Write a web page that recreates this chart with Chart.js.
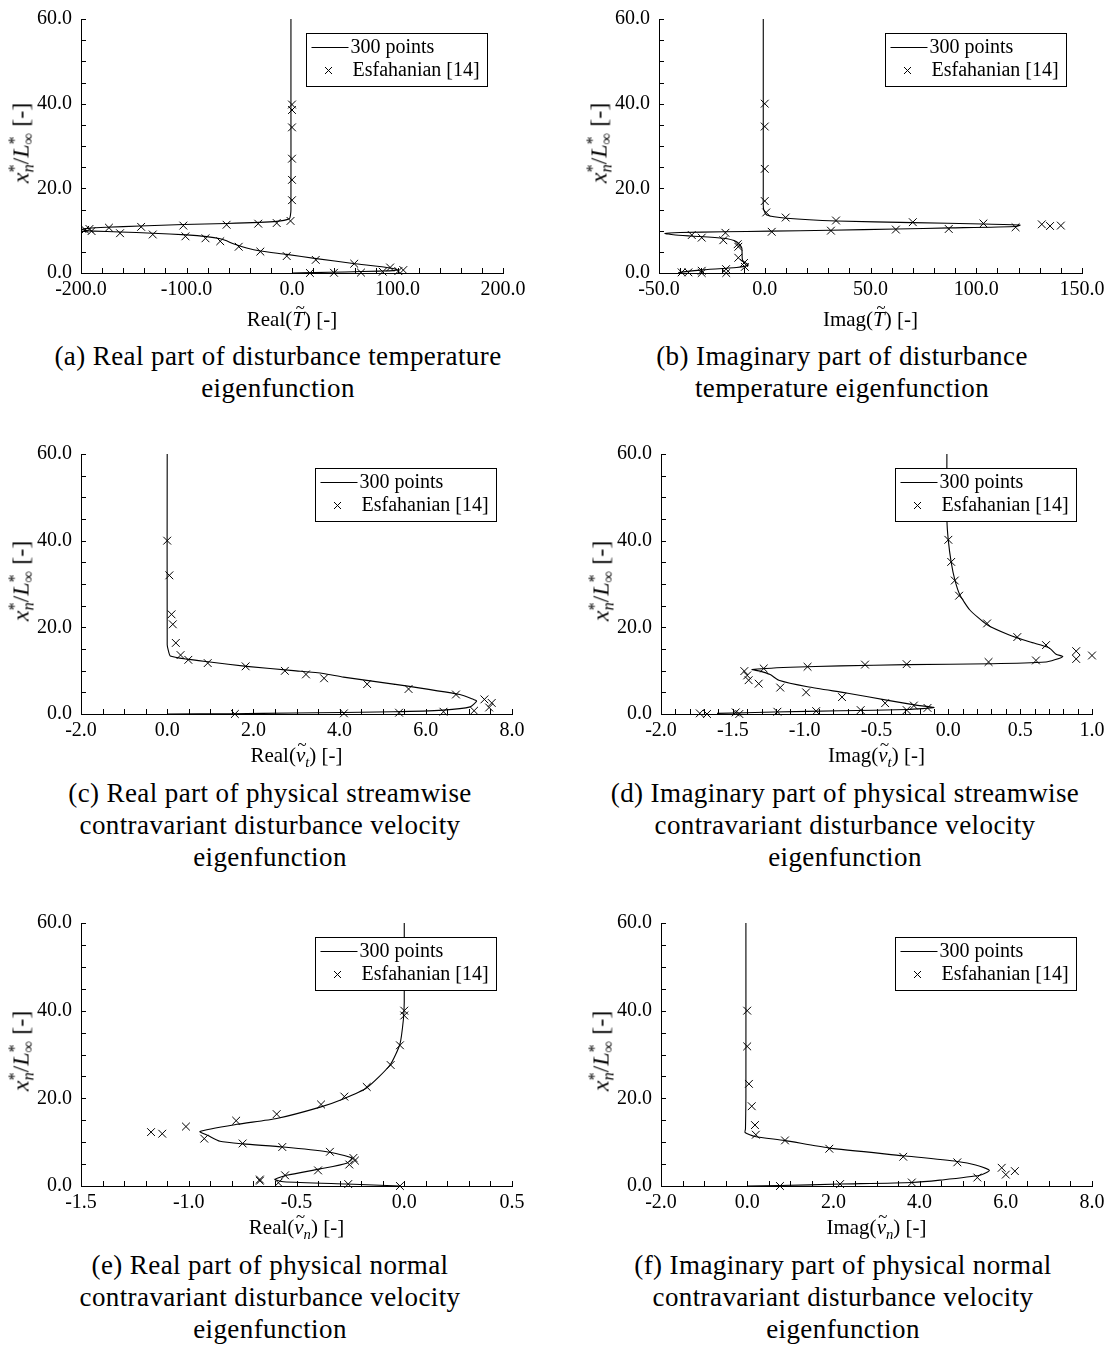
<!DOCTYPE html>
<html>
<head>
<meta charset="utf-8">
<title>Disturbance eigenfunctions</title>
<script src="https://cdn.jsdelivr.net/npm/chart.js@4.4.1/dist/chart.umd.min.js"></script>
<style>
html,body{margin:0;padding:0;background:#fff}
body{position:relative;width:1110px;height:1347px;overflow:hidden;font-family:"Liberation Serif","Times New Roman",serif;color:#000}
canvas{position:absolute}
.cap{position:absolute;transform:translateX(-50%);text-align:center;white-space:nowrap;font-size:27px;line-height:32px;letter-spacing:0.4px}
.xt{position:absolute;transform:translate(-50%,-50%);white-space:nowrap;font-size:21px}
.yt{position:absolute;transform:translate(-50%,-50%) rotate(-90deg);white-space:nowrap;font-size:24px}
.mi{font-style:italic}
.sp{font-size:0.68em;position:relative;top:-0.55em;font-style:normal}
.sb{font-size:0.68em;position:relative;top:0.3em;margin-left:-0.5em}
.acc{position:relative;display:inline-block;font-style:italic}
.acc .tl{position:absolute;left:0.2em;top:-0.55em;font-style:normal;font-size:0.8em}
.sub{font-size:0.7em;font-style:italic;vertical-align:-0.3em}
</style>
</head>
<body>
<script>
// ---- Real part of the temperature eigenfunction ----
const reT_curveX = [-1, -1, -1, -1.5, -2.5, -14.5, -62, -103, -144, -176, -193, -199, -195, -188, -163, -132, -100, -81, -68, -62, -55.6, -43, -30, -5, 23, 58, 93, 100, 96, 83, 50, 20, 0];
const reT_curveY = [60, 40, 15, 13.6, 12.8, 12.2, 11.7, 11.45, 11.1, 10.8, 10.55, 10.3, 10.0, 9.9, 9.7, 9.4, 9.0, 8.6, 8.1, 7.6, 6.9, 5.9, 5.2, 4.4, 3.4, 2.25, 1.2, 0.75, 0.55, 0.45, 0.25, 0.08, 0];
const reT_refX = [0, 0, 0, 0, 0, 0, -1.4, -14.5, -32, -62, -103, -143, -173.5, -192, -196, -190, -163, -132, -101, -82, -68, -50.5, -30, -5, 22.5, 59, 93, 105.5, 100.8, 86, 65.4, 39.8, 17];
const reT_refY = [39.8, 38.5, 34.4, 27.0, 22.0, 17.2, 12.3, 11.8, 11.65, 11.4, 11.2, 10.9, 10.7, 10.4, 10.2, 9.9, 9.4, 9.1, 8.66, 8.2, 7.5, 6.2, 5.06, 4.0, 3.1, 2.2, 1.3, 0.7, 0.45, 0.3, 0.1, 0.05, 0.0];

// ---- Imaginary part of the temperature eigenfunction ----
const imT_curveX = [-0.7, -0.7, -0.6, 1, 10.4, 34, 70, 103, 120.7, 119, 87.6, 62.4, 30.9, 2.5, -19.6, -40, -47.2, -43.2, -35.3, -19.6, -13.3, -10.9, -10.5, -7.8, -13.3, -30.6, -40.9];
const imT_curveY = [60, 20, 15.2, 13.7, 12.95, 12.3, 11.9, 11.57, 11.3, 11.0, 10.65, 10.4, 10.1, 9.9, 9.73, 9.58, 9.35, 9.04, 8.74, 8.2, 7.4, 6.0, 3.0, 1.84, 1.3, 0.69, 0.12];
const imT_refX = [0, 0, 0, 0, 0.7, 9.9, 33.7, 70, 103.4, 118.6, 131, 134.9, 140, 87, 62, 31.3, 3.3, -18.6, -34.5, -29.8, -19.6, -12.8, -12.5, -12.5, -9.8, -9.4, -18.3, -29.8, -36.1, -39.3, -29.8, -18.2];
const imT_refY = [40, 34.6, 24.6, 17.0, 14.3, 13.1, 12.4, 12.0, 11.7, 10.8, 11.5, 11.1, 11.2, 10.4, 10.26, 10.0, 9.73, 9.5, 8.97, 8.35, 7.74, 6.8, 6.2, 3.6, 2.37, 1.45, 0.92, 0.53, 0.15, 0.15, 0.0, 0.0];

// ---- Real part of the streamwise velocity eigenfunction ----
const reVt_curveX = [0, 0, 0.03, 0.07, 0.45, 0.99, 1.84, 2.93, 3.62, 4.09, 5.25, 6.79, 7.1, 7.18, 7.03, 6.4, 5.25, 2.93, 1.5, 0];
const reVt_curveY = [60, 16, 14.5, 13.4, 12.66, 12.0, 11.0, 10.0, 9.36, 8.5, 6.9, 4.5, 3.4, 3.0, 1.64, 0.9, 0.52, 0.22, 0.07, 0];
const reVt_refX = [0.0, 0.05, 0.1, 0.13, 0.2, 0.31, 0.49, 0.94, 1.82, 2.73, 3.22, 3.64, 4.64, 5.6, 6.7, 7.36, 7.53, 7.47, 7.12, 6.41, 5.38, 4.1, 1.57];
const reVt_refY = [40.0, 32.0, 23.0, 20.7, 16.4, 13.6, 12.5, 11.75, 11.0, 9.96, 9.14, 8.24, 6.9, 5.77, 4.5, 3.37, 2.55, 1.5, 0.75, 0.52, 0.3, 0.15, 0.0];

// ---- Imaginary part of the streamwise velocity eigenfunction ----
const imVt_curveX = [-0.01, -0.01, 0.0, 0.02, 0.045, 0.08, 0.15, 0.27, 0.42, 0.57, 0.70, 0.75, 0.797, 0.74, 0.68, 0.30, -0.285, -0.75, -1.1, -1.366, -1.31, -1.24, -1.18, -0.98, -0.70, -0.42, -0.215, -0.1, -0.285, -0.75, -1.215, -1.61];
const imVt_curveY = [60, 45, 40, 35, 31, 27.5, 24, 20.6, 18.3, 16.6, 15.3, 13.8, 13.26, 12.5, 12.0, 11.6, 11.4, 11.1, 10.8, 10.26, 9.9, 9.1, 7.8, 6.3, 4.8, 3.15, 2.0, 1.5, 1.05, 0.75, 0.45, 0.15];
const imVt_refX = [0.0, 0.02, 0.045, 0.075, 0.27, 0.48, 0.68, 0.89, 0.89, 1.0, 0.61, 0.28, -0.29, -0.58, -0.98, -1.285, -1.42, -1.40, -1.39, -1.32, -1.17, -0.99, -0.74, -0.44, -0.24, -0.145, -0.29, -0.61, -0.92, -1.19, -1.48, -1.455, -1.68, -1.73];
const imVt_refY = [40.2, 35.1, 30.8, 27.3, 20.9, 17.75, 15.9, 14.5, 12.7, 13.5, 12.36, 12.0, 11.5, 11.4, 10.9, 10.5, 9.9, 8.9, 7.8, 7.0, 6.1, 5.0, 3.9, 2.5, 1.95, 1.4, 0.9, 0.9, 0.67, 0.52, 0.37, 0.0, 0.0, 0.15];

// ---- Real part of the normal velocity eigenfunction ----
const reVn_curveX = [0.0, 0.0, -0.004, -0.02, -0.066, -0.174, -0.283, -0.39, -0.592, -0.777, -0.948, -0.91, -0.855, -0.747, -0.56, -0.36, -0.244, -0.267, -0.39, -0.545, -0.6, -0.56, -0.267, -0.02];
const reVn_curveY = [60, 42, 38, 32.4, 27.6, 22.4, 19.85, 18.0, 15.4, 14.07, 12.44, 11.5, 10.2, 9.6, 8.9, 7.8, 6.37, 5.2, 3.9, 2.44, 1.48, 0.96, 0.44, 0.0];
const reVn_refX = [0.0, 0.0, -0.02, -0.063, -0.174, -0.278, -0.386, -0.592, -0.78, -1.013, -1.123, -1.175, -0.928, -0.75, -0.566, -0.345, -0.236, -0.229, -0.255, -0.40, -0.553, -0.67, -0.67, -0.584, -0.26, -0.02];
const reVn_refY = [40.0, 38.9, 32.1, 27.6, 22.6, 20.4, 18.6, 16.4, 14.9, 13.56, 11.93, 12.3, 10.8, 9.7, 8.9, 7.8, 6.4, 5.8, 4.9, 3.56, 2.44, 1.48, 1.2, 0.74, 0.44, 0.0];

// ---- Imaginary part of the normal velocity eigenfunction ----
const imVn_curveX = [-0.03, -0.03, -0.04, -0.05, 0.18, 0.86, 1.88, 3.62, 4.87, 5.3, 5.62, 5.4, 4.47, 3.82, 2.15, 0.76, 0.0];
const imVn_curveY = [60, 20, 13, 12.2, 11.3, 10.4, 8.7, 6.9, 5.6, 4.8, 3.56, 2.44, 1.33, 0.8, 0.44, 0.1, 0.0];
const imVn_refX = [0.0, 0.0, 0.04, 0.105, 0.18, 0.2, 0.877, 1.905, 3.62, 4.875, 5.905, 6.21, 6.0, 5.34, 3.82, 2.155, 0.76];
const imVn_refY = [40.0, 31.85, 23.3, 18.2, 13.9, 11.7, 10.4, 8.5, 6.67, 5.4, 4.15, 3.4, 2.6, 1.93, 0.8, 0.44, 0.0];

// ---- shared axis settings ----
const seriesLabels = ['300 points', 'Esfahanian [14]'];
const heightRange = [0, 60];
const heightMajor = 20;
const heightMinor = 5;

const FONT = '"Liberation Serif", "Times New Roman", serif';

function pairs(xs, ys) { return xs.map((x, i) => ({ x: x, y: ys[i] })); }
function fmt(v) { const s = Number(v).toFixed(1); return s === '-0.0' ? '0.0' : s; }

// Tick marks drawn on the inside of the left and bottom axes
const inwardTicks = {
  id: 'inwardTicks',
  afterDatasetsDraw(chart, args, o) {
    const { ctx, scales: { x, y } } = chart;
    ctx.save();
    ctx.strokeStyle = '#000';
    ctx.lineWidth = 1;
    ctx.beginPath();
    const nx = Math.round((x.max - x.min) / o.xMinor);
    for (let i = 0; i <= nx; i++) {
      const px = Math.round(x.getPixelForValue(x.min + i * o.xMinor)) + 0.5;
      ctx.moveTo(px, y.bottom);
      ctx.lineTo(px, y.bottom - o.len);
    }
    const ny = Math.round((y.max - y.min) / o.yMinor);
    for (let i = 0; i <= ny; i++) {
      const py = Math.round(y.getPixelForValue(y.min + i * o.yMinor)) + 0.5;
      ctx.moveTo(x.left, py);
      ctx.lineTo(x.left + o.len, py);
    }
    ctx.stroke();
    ctx.restore();
  }
};

// Framed legend placed in the upper right of the plot area
const boxedLegend = {
  id: 'boxedLegend',
  afterDatasetsDraw(chart, args, o) {
    const { ctx, chartArea: a } = chart;
    const left = Math.round(a.right - o.right - o.width) + 0.5;
    const top = Math.round(a.top + o.top) + 0.5;
    ctx.save();
    ctx.fillStyle = '#fff';
    ctx.fillRect(left, top, o.width, o.height);
    ctx.strokeStyle = '#000';
    ctx.lineWidth = 1;
    ctx.strokeRect(left, top, o.width, o.height);
    const ds = chart.data.datasets;
    const r1 = top + 14, r2 = top + 37;
    ctx.beginPath();
    ctx.moveTo(left + 5, r1);
    ctx.lineTo(left + 42, r1);
    ctx.stroke();
    const c = left + 22, h = 3.5;
    ctx.beginPath();
    ctx.moveTo(c - h, r2 - h); ctx.lineTo(c + h, r2 + h);
    ctx.moveTo(c - h, r2 + h); ctx.lineTo(c + h, r2 - h);
    ctx.stroke();
    ctx.fillStyle = '#000';
    ctx.font = '20px ' + FONT;
    ctx.textBaseline = 'middle';
    ctx.fillText(ds[0].label, left + 44, r1);
    ctx.fillText(ds[1].label, left + 46, r2);
    ctx.restore();
  }
};

const AXIS_W = 81, AXIS_H = 34, PAD_TOP = 14, PAD_RIGHT = 40;

function buildPanel(p) {
  const canvas = document.createElement('canvas');
  const w = (p.R - p.L) + AXIS_W + PAD_RIGHT;
  const h = (p.B - p.T) + PAD_TOP + AXIS_H;
  canvas.width = w; canvas.height = h;
  canvas.style.width = w + 'px'; canvas.style.height = h + 'px';
  canvas.style.left = (p.L - AXIS_W) + 'px';
  canvas.style.top = (p.T - PAD_TOP) + 'px';
  document.body.appendChild(canvas);

  new Chart(canvas, {
    type: 'scatter',
    data: {
      datasets: [
        { label: seriesLabels[0], data: pairs(p.cx, p.cy), showLine: true, borderColor: '#000', backgroundColor: '#000',
          borderWidth: 1.1, pointRadius: 0, pointHoverRadius: 0, tension: 0.2, clip: false, order: 2 },
        { label: seriesLabels[1], data: pairs(p.mx, p.my), showLine: false, pointStyle: 'crossRot', pointRadius: 5.5,
          pointHoverRadius: 5.5, borderColor: '#000', backgroundColor: '#000', borderWidth: 1, clip: false, order: 1 }
      ]
    },
    options: {
      responsive: false, animation: false, devicePixelRatio: 1, events: [],
      layout: { padding: { top: PAD_TOP, right: PAD_RIGHT, left: 0, bottom: 0 } },
      plugins: {
        legend: { display: false }, tooltip: { enabled: false },
        inwardTicks: { xMinor: p.xMinor, yMinor: heightMinor, len: 5 },
        boxedLegend: { right: 16, top: 14, width: 181, height: 53 }
      },
      scales: {
        x: {
          type: 'linear', min: p.xMin, max: p.xMax,
          afterFit(s) { s.height = AXIS_H; },
          grid: { display: false, drawTicks: false, tickLength: 0 },
          border: { display: true, color: '#000', width: 1 },
          ticks: { stepSize: p.xStep, padding: 5, color: '#000', maxRotation: 0, autoSkip: false,
                   font: { family: FONT, size: 20 }, callback: v => fmt(v) }
        },
        y: {
          type: 'linear', min: heightRange[0], max: heightRange[1],
          afterFit(s) { s.width = AXIS_W; },
          grid: { display: false, drawTicks: false, tickLength: 0 },
          border: { display: true, color: '#000', width: 1 },
          ticks: { stepSize: heightMajor, padding: 9, color: '#000', autoSkip: false,
                   font: { family: FONT, size: 20 }, callback: v => fmt(v) }
        }
      }
    },
    plugins: [inwardTicks, boxedLegend]
  });

  const yt = document.createElement('div');
  yt.className = 'yt';
  yt.style.left = (p.L - 60) + 'px';
  yt.style.top = ((p.T + p.B) / 2) + 'px';
  yt.innerHTML = '<span class="mi">x</span><span class="sp">*</span><span class="sb mi">n</span>/' +
                 '<span class="mi">L</span><span class="sp">*</span><span class="sb">&#8734;</span> [-]';
  document.body.appendChild(yt);

  const xt = document.createElement('div');
  xt.className = 'xt';
  xt.style.left = ((p.L + p.R) / 2) + 'px';
  xt.style.top = p.titleY + 'px';
  xt.innerHTML = p.xTitle;
  document.body.appendChild(xt);

  const cap = document.createElement('div');
  cap.className = 'cap';
  cap.style.left = p.capX + 'px';
  cap.style.top = (p.capY - 16) + 'px';
  cap.innerHTML = p.caption.join('<br>');
  document.body.appendChild(cap);
}

const tT = '<span class="acc">T<span class="tl">~</span></span>';
const tV = sub => '<span class="acc">v<span class="tl" style="left:0.1em;top:-0.5em">~</span></span><span class="sub">' + sub + '</span>';

const panels = [
  { L: 81, T: 12, R: 503, B: 273, xMin: -200, xMax: 200, xStep: 100, xMinor: 20,
    cx: reT_curveX, cy: reT_curveY, mx: reT_refX, my: reT_refY,
    xTitle: 'Real(' + tT + ') [-]', titleY: 319, capX: 278, capY: 356,
    caption: ['(a) Real part of disturbance temperature', 'eigenfunction'] },
  { L: 659, T: 12, R: 1082, B: 273, xMin: -50, xMax: 150, xStep: 50, xMinor: 10,
    cx: imT_curveX, cy: imT_curveY, mx: imT_refX, my: imT_refY,
    xTitle: 'Imag(' + tT + ') [-]', titleY: 319, capX: 842, capY: 356,
    caption: ['(b) Imaginary part of disturbance', 'temperature eigenfunction'] },
  { L: 81, T: 447, R: 512, B: 714, xMin: -2, xMax: 8, xStep: 2, xMinor: 0.5,
    cx: reVt_curveX, cy: reVt_curveY, mx: reVt_refX, my: reVt_refY,
    xTitle: 'Real(' + tV('t') + ') [-]', titleY: 757, capX: 270, capY: 793,
    caption: ['(c) Real part of physical streamwise', 'contravariant disturbance velocity', 'eigenfunction'] },
  { L: 661, T: 447, R: 1092, B: 714, xMin: -2, xMax: 1, xStep: 0.5, xMinor: 0.1,
    cx: imVt_curveX, cy: imVt_curveY, mx: imVt_refX, my: imVt_refY,
    xTitle: 'Imag(' + tV('t') + ') [-]', titleY: 757, capX: 845, capY: 793,
    caption: ['(d) Imaginary part of physical streamwise', 'contravariant disturbance velocity', 'eigenfunction'] },
  { L: 81, T: 916, R: 512, B: 1186, xMin: -1.5, xMax: 0.5, xStep: 0.5, xMinor: 0.1,
    cx: reVn_curveX, cy: reVn_curveY, mx: reVn_refX, my: reVn_refY,
    xTitle: 'Real(' + tV('n') + ') [-]', titleY: 1229, capX: 270, capY: 1265,
    caption: ['(e) Real part of physical normal', 'contravariant disturbance velocity', 'eigenfunction'] },
  { L: 661, T: 916, R: 1092, B: 1186, xMin: -2, xMax: 8, xStep: 2, xMinor: 0.5,
    cx: imVn_curveX, cy: imVn_curveY, mx: imVn_refX, my: imVn_refY,
    xTitle: 'Imag(' + tV('n') + ') [-]', titleY: 1229, capX: 843, capY: 1265,
    caption: ['(f) Imaginary part of physical normal', 'contravariant disturbance velocity', 'eigenfunction'] }
];

panels.forEach(buildPanel);
</script>
</body>
</html>
